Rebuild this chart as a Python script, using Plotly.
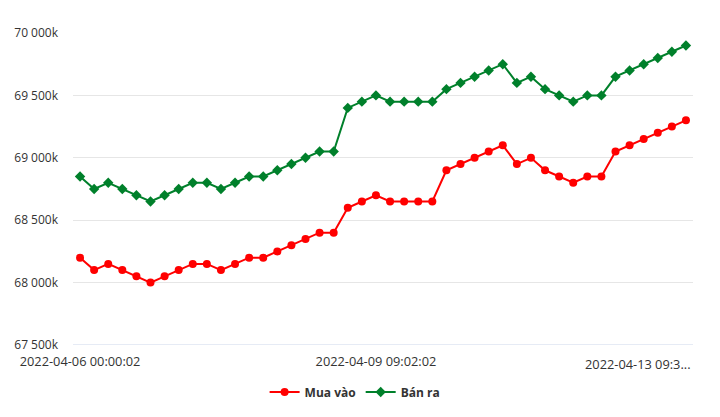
import plotly.graph_objects as go

mua_vao = [68200, 68100, 68150, 68100, 68050, 68000, 68050, 68100, 68150, 68150,
           68100, 68150, 68200, 68200, 68250, 68300, 68350, 68400, 68400, 68600,
           68650, 68700, 68650, 68650, 68650, 68650, 68900, 68950, 69000, 69050,
           69100, 68950, 69000, 68900, 68850, 68800, 68850, 68850, 69050, 69100,
           69150, 69200, 69250, 69300]
ban_ra = [68850, 68750, 68800, 68750, 68700, 68650, 68700, 68750, 68800, 68800,
          68750, 68800, 68850, 68850, 68900, 68950, 69000, 69050, 69050, 69400,
          69450, 69500, 69450, 69450, 69450, 69450, 69550, 69600, 69650, 69700,
          69750, 69600, 69650, 69550, 69500, 69450, 69500, 69500, 69650, 69700,
          69750, 69800, 69850, 69900]
idx = list(range(len(mua_vao)))

x_tick_idx = [0, 21]
x_tick_text = ["2022-04-06 00:00:02", "2022-04-09 09:02:02"]
x_last_label = "2022-04-13 09:3..."

y_tick_vals = [67500, 68000, 68500, 69000, 69500, 70000]
y_tick_text = ["67 500k", "68 000k", "68 500k", "69 000k", "69 500k", "70 000k"]

RED = "#ff0000"
GREEN = "#00802b"
FONT = "Open Sans"

fig = go.Figure()
fig.add_trace(go.Scatter(
    x=idx, y=mua_vao, name="<b>Mua vào</b>", mode="lines+markers",
    line=dict(color=RED, width=2),
    marker=dict(symbol="circle", size=8, color=RED),
))
fig.add_trace(go.Scatter(
    x=idx, y=ban_ra, name="<b>Bán ra</b>", mode="lines+markers",
    line=dict(color=GREEN, width=2),
    marker=dict(symbol="diamond", size=8, color=GREEN),
))

fig.update_layout(
    width=720, height=417,
    margin=dict(l=73, r=27, t=33, b=71),
    paper_bgcolor="white", plot_bgcolor="white",
    font=dict(family=FONT, size=12, color="#333333"),
    showlegend=True,
    legend=dict(orientation="h", x=0.455, xanchor="center", y=-0.147, yanchor="middle",
                font=dict(family=FONT, size=12, color="#333333"),
                itemwidth=30, tracegroupgap=0),
    xaxis=dict(
        range=[-0.5, len(idx) - 0.5],
        tickmode="array", tickvals=x_tick_idx, ticktext=x_tick_text,
        showgrid=False, zeroline=False,
        showline=False, ticks="outside", ticklen=5, tickcolor="rgba(0,0,0,0)",
        tickfont=dict(family=FONT, size=12.8, color="#333333"),
    ),
    yaxis=dict(
        range=[67500, 70000],
        tickmode="array", tickvals=y_tick_vals, ticktext=y_tick_text,
        showgrid=True, gridcolor="#e6e6e6", gridwidth=1,
        zeroline=False, showline=False,
        ticks="", ticklabelstandoff=14,
        tickfont=dict(family=FONT, size=12, color="#333333"),
    ),
    shapes=[dict(type="line", xref="x domain", yref="y", x0=0, x1=1,
                 y0=67500, y1=67500, line=dict(color="#ccd6eb", width=1))],
    annotations=[dict(text=x_last_label, xref="x domain", yref="paper",
                      x=1, y=0, xanchor="right", yanchor="top", yshift=-8,
                      showarrow=False,
                      font=dict(family=FONT, size=12.8, color="#333333"))],
)

fig.write_html("out.html")
